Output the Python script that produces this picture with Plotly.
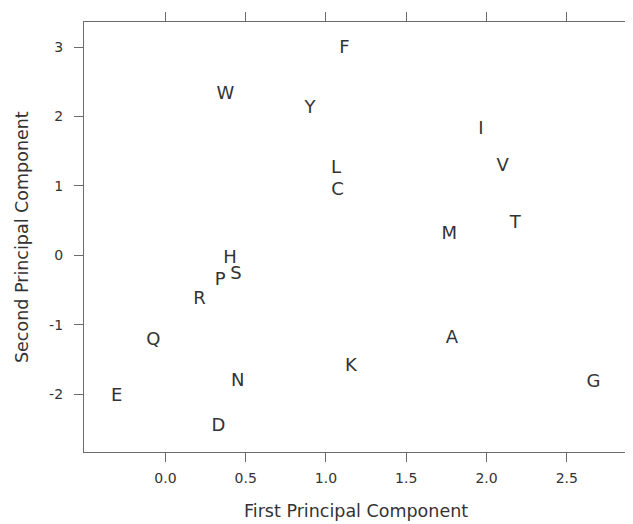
import plotly.graph_objects as go

labels = ["A", "C", "D", "E", "F", "G", "H", "I", "K", "L",
          "M", "N", "P", "Q", "R", "S", "T", "V", "W", "Y"]
pc1 = [1.784, 1.072, 0.330, -0.303, 1.115, 2.667, 0.403, 1.965, 1.155, 1.062,
       1.768, 0.451, 0.341, -0.075, 0.212, 0.440, 2.179, 2.100, 0.374, 0.901]
pc2 = [-1.198, 0.928, -2.473, -2.040, 2.987, -1.833, -0.040, 1.818, -1.597, 1.255,
       0.303, -1.814, -0.356, -1.232, -0.635, -0.270, 0.452, 1.279, 2.323, 2.121]

x_ticks = [0.0, 0.5, 1.0, 1.5, 2.0, 2.5]
x_ticktext = ["0.0", "0.5", "1.0", "1.5", "2.0", "2.5"]
y_ticks = [-2, -1, 0, 1, 2, 3]
y_ticktext = ["-2", "-1", "0", "1", "2", "3"]

FONT = "DejaVu Sans"
AX = "#6b6b6b"
TXT = "#333333"

fig = go.Figure(go.Scatter(
    x=pc1, y=pc2, text=labels, mode="text",
    textposition="middle center",
    textfont=dict(family=FONT, size=18, color=TXT),
    hoverinfo="text",
))

axis_common = dict(
    showgrid=False, zeroline=False, automargin=False,
    showline=True, linecolor=AX, linewidth=1.3, mirror="ticks",
    ticks="outside", ticklen=9, tickcolor=AX, tickwidth=1.3,
    tickfont=dict(family=FONT, size=14, color=TXT),
)

# page body adds an 8px offset, so the figure is 8px smaller than the window
fig.update_layout(
    width=625, height=516,
    margin=dict(l=76, r=6, t=14, b=72),
    paper_bgcolor="white", plot_bgcolor="white",
    showlegend=False,
    xaxis=dict(range=[-0.507, 2.875], tickvals=x_ticks, ticktext=x_ticktext,
               ticklabelstandoff=4, **axis_common),
    yaxis=dict(range=[-2.834, 3.362], tickvals=y_ticks, ticktext=y_ticktext,
               ticklabelstandoff=8, **axis_common),
    annotations=[
        dict(text="First Principal Component", xref="paper", yref="paper",
             x=0.5, y=0, yshift=-59, xanchor="center", yanchor="middle",
             showarrow=False, font=dict(family=FONT, size=17.5, color=TXT)),
        dict(text="Second Principal Component", xref="paper", yref="paper",
             x=0, y=0.5, xshift=-62, xanchor="center", yanchor="middle",
             textangle=-90, showarrow=False,
             font=dict(family=FONT, size=17.5, color=TXT)),
    ],
)

fig.write_html("out.html")
